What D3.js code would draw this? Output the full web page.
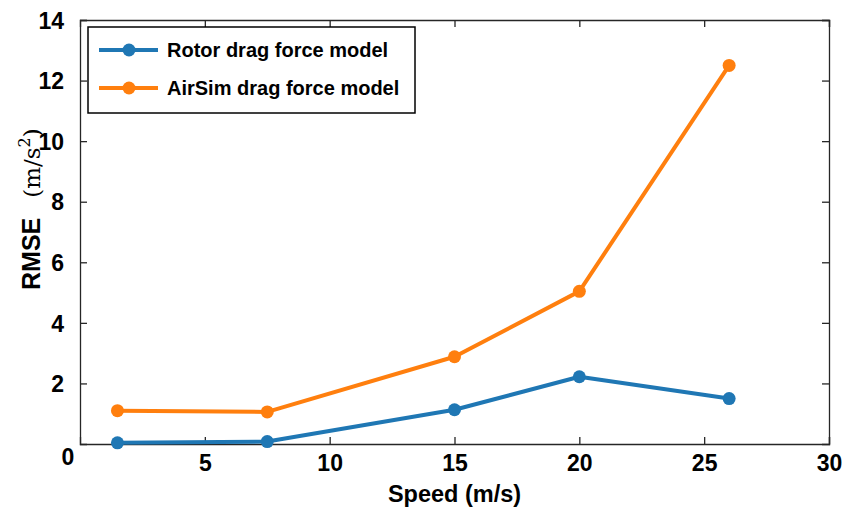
<!DOCTYPE html>
<html>
<head>
<meta charset="utf-8">
<script src="https://cdn.jsdelivr.net/npm/d3@7"></script>
<style>
  html, body { margin: 0; padding: 0; background: #fff; }
  svg { display: block; }
  .tick text { font-family: "Liberation Sans", Arial, sans-serif; font-weight: bold; font-size: 23px; fill: #000; }
</style>
</head>
<body>
<svg id="chart" width="846" height="508"></svg>
<script>
// Speeds (m/s) at which each model was evaluated
const speeds = [1.5, 7.5, 15, 20, 26];
// RMSE of each drag force model (m/s^2)
const rotorRmse = [0.04, 0.08, 1.13, 2.22, 1.5];
const airsimRmse = [1.1, 1.06, 2.88, 5.04, 12.5];
const seriesNames = ["Rotor drag force model", "AirSim drag force model"];
const seriesColors = ["#1f77b4", "#ff7f0e"];
const xTicks = [5, 10, 15, 20, 25, 30];
const yTicks = [2, 4, 6, 8, 10, 12, 14];

const svg = d3.select("#chart");
const margin = { left: 80, right: 17, top: 20, bottom: 64 };
const W = 846, H = 508;

const x = d3.scaleLinear().domain([0, 30]).range([margin.left, W - margin.right]);
const y = d3.scaleLinear().domain([0, 14]).range([H - margin.bottom, margin.top]);

const axisColor = "#262626";
const tickLen = 7;

// Axes with inward ticks on all four sides
const gx = svg.append("g").attr("transform", `translate(0,${y(0)})`)
  .call(d3.axisBottom(x).tickValues(xTicks).tickSize(-tickLen).tickPadding(11).tickFormat(d3.format("d")));
const gy = svg.append("g").attr("transform", `translate(${x(0)},0)`)
  .call(d3.axisLeft(y).tickValues(yTicks).tickSize(-tickLen).tickPadding(16).tickFormat(d3.format("d")));
const gxTop = svg.append("g").attr("transform", `translate(0,${y(14)})`)
  .call(d3.axisTop(x).tickValues(xTicks).tickSize(-tickLen).tickFormat(""));
const gyRight = svg.append("g").attr("transform", `translate(${x(30)},0)`)
  .call(d3.axisRight(y).tickValues(yTicks).tickSize(-tickLen).tickFormat(""));

[gx, gy, gxTop, gyRight].forEach(g => {
  g.select(".domain").attr("stroke", axisColor).attr("stroke-width", 1.3);
  g.selectAll(".tick line").attr("stroke", axisColor).attr("stroke-width", 1.3);
});
gx.selectAll(".tick text").attr("dy", "0.71em");
gy.selectAll(".tick text").attr("dy", "0.36em");

// Shared origin label at the corner
svg.append("text")
  .attr("x", x(0) - 12).attr("y", y(0) + 21)
  .attr("text-anchor", "middle")
  .style("font-family", "Liberation Sans, Arial, sans-serif")
  .style("font-weight", "bold").style("font-size", "23px")
  .text("0");

// Axis titles
svg.append("text")
  .attr("x", (x(0) + x(30)) / 2).attr("y", 502)
  .attr("text-anchor", "middle")
  .style("font-family", "Liberation Sans, Arial, sans-serif")
  .style("font-weight", "bold").style("font-size", "23.5px")
  .text("Speed (m/s)");

const yTitle = svg.append("text")
  .attr("transform", "translate(40,290) rotate(-90)")
  .attr("text-anchor", "start");
yTitle.append("tspan")
  .style("font-family", "Liberation Sans, Arial, sans-serif")
  .style("font-weight", "bold").style("font-size", "25px")
  .text("RMSE");
const unit = yTitle.append("tspan")
  .attr("dx", 20)
  .style("font-family", "DejaVu Serif, serif")
  .style("font-size", "23px");
unit.append("tspan").text("(m/s");
unit.append("tspan").attr("dy", -10).style("font-size", "16px").text("2");
unit.append("tspan").attr("dy", 10).text(")");

// Data series
const data = [rotorRmse, airsimRmse].map((vals, i) => ({
  name: seriesNames[i], color: seriesColors[i],
  points: speeds.map((s, j) => ({ s, v: vals[j] }))
}));

const line = d3.line().x(d => x(d.s)).y(d => y(d.v));
const series = svg.append("g").selectAll("g").data(data).join("g");
series.append("path")
  .attr("d", d => line(d.points))
  .attr("fill", "none")
  .attr("stroke", d => d.color)
  .attr("stroke-width", 4)
  .attr("stroke-linejoin", "round");
series.selectAll("circle").data(d => d.points.map(p => ({ ...p, color: d.color })))
  .join("circle")
  .attr("cx", d => x(d.s)).attr("cy", d => y(d.v))
  .attr("r", 6.5).attr("fill", d => d.color);

// Legend
const lg = svg.append("g");
lg.append("rect")
  .attr("x", 88).attr("y", 27).attr("width", 327).attr("height", 86)
  .attr("fill", "#fff").attr("stroke", "#000").attr("stroke-width", 1.5);
data.forEach((d, i) => {
  const ly = 50 + i * 38;
  lg.append("line").attr("x1", 99).attr("x2", 158).attr("y1", ly).attr("y2", ly)
    .attr("stroke", d.color).attr("stroke-width", 4);
  lg.append("circle").attr("cx", 129).attr("cy", ly).attr("r", 6.5).attr("fill", d.color);
  lg.append("text").attr("x", 167).attr("y", ly + 7)
    .style("font-family", "Liberation Sans, Arial, sans-serif")
    .style("font-weight", "bold").style("font-size", "20px")
    .text(d.name);
});
</script>
</body>
</html>
